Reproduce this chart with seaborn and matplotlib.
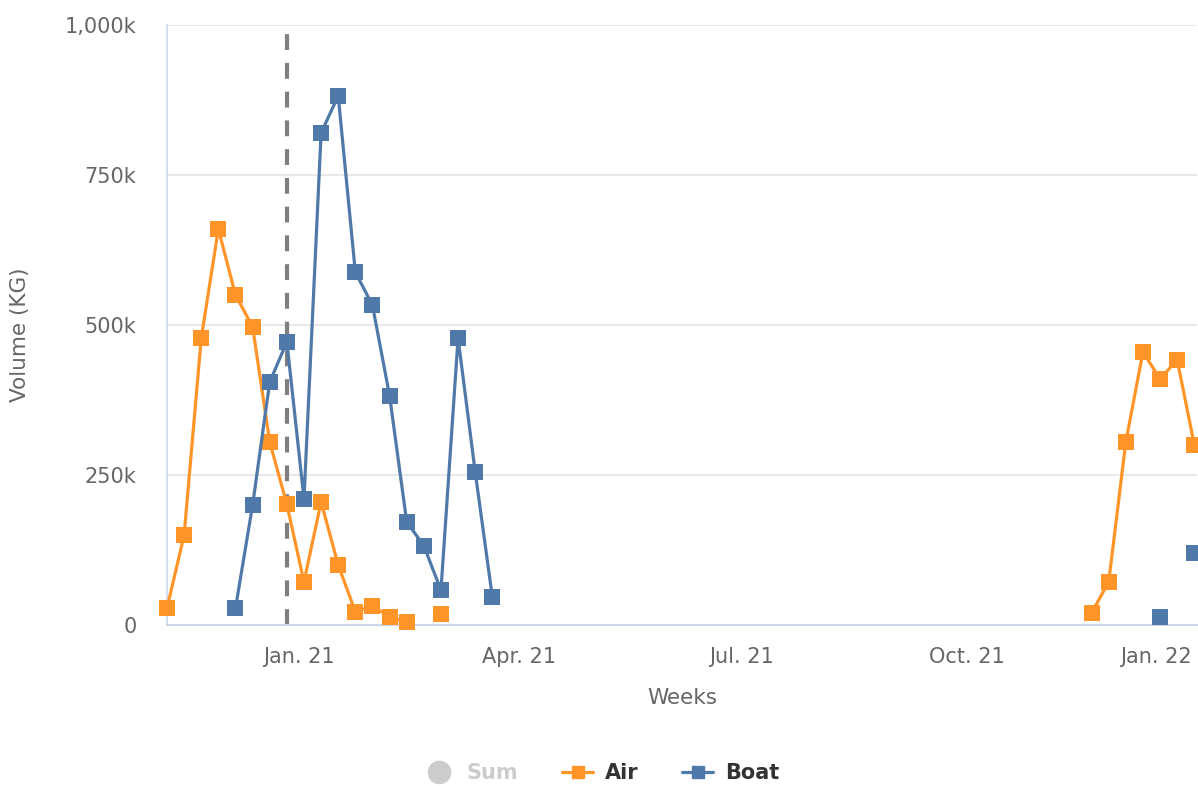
import pandas as pd
import numpy as np
import seaborn as sns
import matplotlib.pyplot as plt
import matplotlib.dates as mdates
import matplotlib.transforms as mtransforms
from matplotlib.lines import Line2D

# weekly volumes in thousands of KG, None = no shipment that week
early_weeks = pd.date_range("2020-11-08", "2021-03-21", freq="7D")
air_early = [28, 150, 478, 660, 550, 497, 305, 201, 72, 205, 100, 22, 32, 13, 5, None, 18, None, None, None]
boat_early = [None, None, None, None, 28, 200, 405, 472, 210, 820, 882, 588, 533, 382, 172, 132, 58, 478, 255, 47]

late_weeks = pd.date_range("2021-11-21", "2022-01-02", freq="7D")
air_late = [20, 72, 305, 455, 410, 442, 300]
boat_late = [None, None, None, None, 13, None, 120]

cutoff = "2020-12-27"
tick_dates = ["2021-01-01", "2021-04-01", "2021-07-01", "2021-10-01", "2022-01-01"]
tick_labels = ["Jan. 21", "Apr. 21", "Jul. 21", "Oct. 21", "Jan. 22"]
y_ticks = [0, 250, 500, 750, 1000]
y_labels = ["0", "250k", "500k", "750k", "1,000k"]

colors = {"Air": "#ff9428", "Boat": "#4f79a8"}

# long table, with a segment id so missing weeks break the line
rows = []
seg = 0
for block, (weeks, series) in enumerate([(early_weeks, {"Air": air_early, "Boat": boat_early}),
                                         (late_weeks, {"Air": air_late, "Boat": boat_late})]):
    for mode, vals in series.items():
        seg += 1
        for w, v in zip(weeks, vals):
            if v is None:
                seg += 1
                continue
            rows.append({"week": w, "volume": v, "mode": mode, "seg": f"{mode}-{seg}"})
df = pd.DataFrame(rows)

sns.set_style("white")
plt.rcParams["font.family"] = ["DejaVu Sans"]

fig = plt.figure(figsize=(11.98, 7.86), dpi=100)
ax = fig.add_axes([167 / 1198, 1 - 625 / 786, 1030 / 1198, 600 / 786])

sns.lineplot(data=df, x="week", y="volume", hue="mode", units="seg", estimator=None,
             palette=colors, marker="s", markersize=11, markeredgewidth=0,
             linewidth=2.3, legend=False, ax=ax, zorder=3)
for ln in ax.lines:
    ln.set_clip_on(False)

ax.axvline(pd.Timestamp(cutoff), color="#7f7f7f", lw=3, dashes=(3.8, 3.1), zorder=2)

ax.set_ylim(0, 1000)
ax.set_xlim(mdates.date2num(pd.Timestamp("2020-11-08")),
            mdates.date2num(pd.Timestamp("2020-11-08") + pd.Timedelta(days=421.1)))
ax.set_yticks(y_ticks)
ax.set_yticklabels(y_labels)
ax.set_xticks([mdates.date2num(pd.Timestamp(d)) for d in tick_dates])
ax.set_xticklabels(tick_labels)

# keep the last month label inside the figure
last = ax.get_xticklabels()[-1]
last.set_horizontalalignment("right")
last.set_transform(last.get_transform() + mtransforms.ScaledTranslation(5 / 100, 0, fig.dpi_scale_trans))

ax.yaxis.grid(True, color="#e6e6e6", lw=1.3)
ax.xaxis.grid(False)
for s in ["top", "right"]:
    ax.spines[s].set_visible(False)
ax.spines["left"].set_color("#ccd6eb")
ax.spines["left"].set_linewidth(1.2)
ax.spines["bottom"].set_color("#ccd6eb")
ax.spines["bottom"].set_linewidth(1.5)

ax.tick_params(axis="y", length=0, pad=22, labelsize=15, labelcolor="#666666")
ax.tick_params(axis="x", length=13, width=1.3, color="#ccd6eb", pad=3,
               labelsize=15, labelcolor="#666666")

ax.set_xlabel("Weeks", fontsize=15.5, color="#666666")
ax.xaxis.set_label_coords(0.5, -0.105)
ax.set_ylabel("Volume (KG)", fontsize=15.5, color="#666666")
ax.yaxis.set_label_coords(-0.133, 0.483)

handles = [
    Line2D([], [], color="#cccccc", marker="o", linestyle="none", markersize=16),
    Line2D([], [], color=colors["Air"], lw=2.3, marker="s", markersize=9),
    Line2D([], [], color=colors["Boat"], lw=2.3, marker="s", markersize=9),
]
leg = fig.legend(handles, ["Sum", "Air", "Boat"], loc="center", bbox_to_anchor=(0.502, 1 - 773 / 786),
                 ncol=3, frameon=False, handlelength=1.5, handletextpad=0.55, columnspacing=2.1,
                 prop={"size": 15, "weight": "bold"})
for t, c in zip(leg.get_texts(), ["#cccccc", "#333333", "#333333"]):
    t.set_color(c)

fig.savefig("out.png", dpi=100)
